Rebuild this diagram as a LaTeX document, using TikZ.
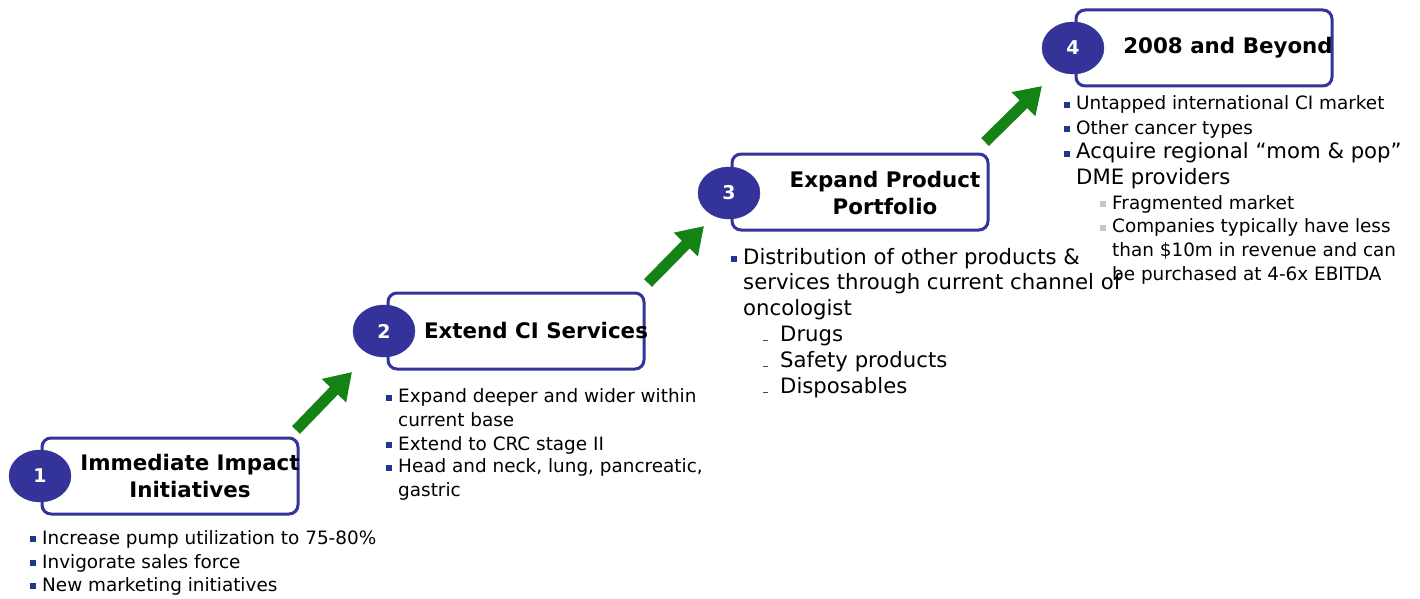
\documentclass[tikz,border=0pt]{standalone}
\usepackage{fontspec}
\setmainfont{DejaVu Sans}
\usetikzlibrary{shapes.geometric,arrows.meta}
\definecolor{stepblue}{RGB}{51,51,153}
\definecolor{bulblue}{RGB}{31,55,140}
\definecolor{arrgreen}{RGB}{20,130,20}
\newcommand\bsq{\textcolor{bulblue}{\rule[2pt]{6pt}{6pt}}\hspace{6pt}}
\newcommand\gsq{\textcolor{gray!45}{\rule[2pt]{6pt}{6pt}}\hspace{6pt}}
\newcommand\dsh{\textcolor{black!70}{\rule[0pt]{5pt}{1pt}}\hspace{12pt}}
\tikzset{
	stepbox/.style={draw=stepblue, line width=3pt, rounded corners=9pt, minimum width=256pt, minimum height=76pt},
	stepnum/.style={ellipse, fill=stepblue, draw=stepblue, minimum width=62pt, minimum height=52pt, inner sep=0pt, text=white, font=\bfseries\fontsize{19}{21}\selectfont},
	steptitle/.style={align=center, font=\bfseries\fontsize{21.4}{27}\selectfont},
	stepitem/.style={anchor=base west, align=left, inner sep=0pt, font=\fontsize{18.4}{23.5}\selectfont},
	bigitem/.style={stepitem, font=\fontsize{21.2}{25.5}\selectfont},
	smallitem/.style={stepitem, font=\fontsize{18.4}{23.7}\selectfont},
	steparrow/.style={arrgreen, line width=11pt, -{Triangle[length=26pt,width=32pt]}}
}
\begin{document}
\begin{tikzpicture}[x=1pt,y=-1pt]
	\useasboundingbox (0,0) rectangle (1420,599);
			\node[stepbox] (B1) at (170,476) {};
			\node[stepbox] (B2) at (516,331) {};
			\node[stepbox] (B3) at (860,192) {};
			\node[stepbox] (B4) at (1204,48) {};
			\node[stepnum] (N1) at (40,476) {1};
			\node[stepnum] (N2) at (384,331) {2};
			\node[stepnum] (N3) at (729,193) {3};
			\node[stepnum] (N4) at (1073,48) {4};
			\node[steptitle] (T1) at (190,476) {Immediate Impact\\Initiatives};
			\node[steptitle] (T2) at (536,331) {Extend CI Services};
			\node[steptitle] (T3) at (885,193) {Expand Product\\Portfolio};
			\node[steptitle] (T4) at (1228,48) {2008 and Beyond};

			\coordinate (A1s) at (296,430);
			\coordinate (A1e) at (352,372);
			\coordinate (A2s) at (648,283);
			\coordinate (A2e) at (704,226);
			\coordinate (A3s) at (985,142);
			\coordinate (A3e) at (1042,86);
			\draw[steparrow] (A1s) -- (A1e);
			\draw[steparrow] (A2s) -- (A2e);
			\draw[steparrow] (A3s) -- (A3e);

			% multi-line items sit on the baseline of their last line
			\node[stepitem] (P1a) at (42,544) {\llap{\bsq}Increase pump utilization to 75-80\%};
			\node[stepitem] (P1b) at (42,568) {\llap{\bsq}Invigorate sales force};
			\node[stepitem] (P1c) at (42,591) {\llap{\bsq}New marketing initiatives};

			\node[stepitem] (P2a) at (398,426) {\llap{\bsq}Expand deeper and wider within\\current base};
			\node[stepitem] (P2b) at (398,450) {\llap{\bsq}Extend to CRC stage II};
			\node[stepitem] (P2c) at (398,496) {\llap{\bsq}Head and neck, lung, pancreatic,\\gastric};

			\node[bigitem] (P3a) at (743,315) {\llap{\bsq}Distribution of other products \&\\services through current channel of\\oncologist};
				\node[bigitem] (P3b) at (780,341) {\llap{\dsh}Drugs};
				\node[bigitem] (P3c) at (780,367) {\llap{\dsh}Safety products};
				\node[bigitem] (P3d) at (780,393) {\llap{\dsh}Disposables};

			\node[smallitem] (P4a) at (1076,110) {\llap{\bsq}Untapped international CI market};
			\node[smallitem] (P4b) at (1076,134) {\llap{\bsq}Other cancer types};
			\node[bigitem] (P4c) at (1076,184) {\llap{\bsq}Acquire regional “mom \& pop”\\DME providers};
				\node[smallitem] (P4d) at (1112,209) {\llap{\gsq}Fragmented market};
				\node[smallitem] (P4e) at (1112,280) {\llap{\gsq}Companies typically have less\\than \$10m in revenue and can\\be purchased at 4-6x EBITDA};
\end{tikzpicture}
\end{document}
